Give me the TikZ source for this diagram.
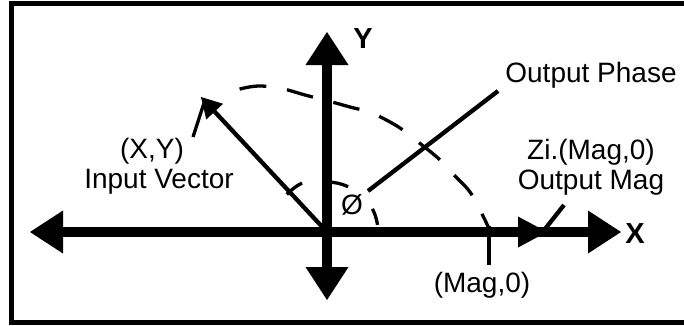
\documentclass[tikz,border=0pt]{standalone}
\usepackage{fontspec}
\setmainfont{Liberation Sans}
\usetikzlibrary{arrows.meta,calc}
\begin{document}
\begin{tikzpicture}[x=1pt,y=-1pt,
  lbl/.style={font=\fontsize{28}{30}\selectfont, inner sep=0pt, anchor=base},
  axislbl/.style={font=\fontsize{29}{30}\selectfont\bfseries, inner sep=0pt},
  axis/.style={line width=10pt},
  bighead/.tip={Triangle[length=33pt,width=43pt,line width=0pt]},
  thinline/.style={line width=3.3pt},
  midline/.style={line width=4.3pt}]
\useasboundingbox (0,0) rectangle (684,325);
\fill[white] (0,0) rectangle (684,325);
% frame
\draw[line width=5pt] (700,3) -- (11.5,3) -- (11.5,322.5) -- (700,322.5);
% coordinates
\coordinate (O) at (327,232);
\coordinate (L) at (30,232);
\coordinate (R) at (621,232);
\coordinate (U) at (327,32);
\coordinate (D) at (327,300);
% axes
\draw[axis, bighead-bighead] (L) -- (R);
\draw[axis, bighead-bighead] (D) -- (U);
% small output head on x axis
\coordinate (zs) at (505,232);
\coordinate (zt) at (547,232);
\draw[axis, -{Triangle[length=29pt,width=31pt,line width=0pt]}] (zs) -- (zt);
% input vector
\coordinate (IV) at (201,97);
\draw[midline, -{Triangle[length=20pt,width=23pt,line width=0pt]}] (O) -- (IV);
% output phase line
\coordinate (P1) at (368,191);
\coordinate (P2) at (498,91);
\draw[midline] (P1) -- (P2);
% angle marks
\draw[thinline] ($(O)+(-117:55)$) arc[start angle=-117,end angle=-137,radius=55];
\draw[thinline] ($(O)+(-90:50)$) arc[start angle=-90,end angle=-65,radius=50];
\draw[thinline] ($(O)+(-8:51)$) arc[start angle=-8,end angle=-27,radius=51];
% dashed arc
\draw[thinline, dash pattern=on 27pt off 21pt, dash phase=8pt]
  plot[smooth, tension=0.5] coordinates {(490,231) (484,218) (470,192) (452,173) (438,158) (413,138) (397,126) (372,113) (350,107) (332,102) (305,95) (280,88) (258,86) (240,89) (224,95)};
% Mag tick
\coordinate (M1) at (489,226);
\coordinate (M2) at (489,265);
\draw[thinline] (M1) -- (M2);
% labels
\node[lbl] (phase) at (591,82) {Output Phase};
\node[lbl] (zi) at (591,159) {Zi.(Mag,0)};
\node[lbl] (omag) at (591,189) {Output Mag};
\node[lbl] (xy) at (152,158) {(X,Y)};
\node[lbl] (inv) at (159,188) {Input Vector};
\node[lbl] (mag) at (482,292) {(Mag,0)};
\node[lbl] (phi) at (352,214) {Ø};
\node[axislbl] (ylab) at (363,39) {Y};
\node[axislbl] (xlab) at (635,234) {X};
% pointers
\coordinate (xyA) at (193,137);
\coordinate (xyB) at (204,103);
\draw[thinline] (xyA) -- (xyB);
\coordinate (zA) at (564,205);
\coordinate (zB) at (545,229);
\draw[midline] (zA) -- (zB);
\end{tikzpicture}
\end{document}
